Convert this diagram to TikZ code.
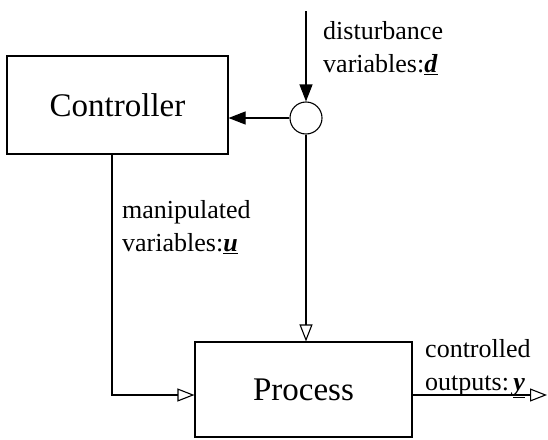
\documentclass[tikz,border=0pt]{standalone}
\usepackage{fontspec}
\setmainfont{Liberation Serif}
\usetikzlibrary{arrows.meta}
\tikzset{
  block/.style={draw, rectangle, line width=1.1pt, font=\fontsize{33}{36}\selectfont},
  sumnode/.style={draw, circle, line width=1.1pt, minimum size=32pt, inner sep=0pt},
  lbl/.style={anchor=north west, inner sep=0pt, align=left,
    font=\fontsize{26}{33}\selectfont},
  sig/.style={line width=1.1pt, -{Triangle[open, length=17pt, width=13pt]}},
  fb/.style={line width=1.1pt, -{Triangle[length=17pt, width=13pt]}}
}
\newcommand{\vecsym}[1]{\underline{\textbf{\textit{#1}}}}
\begin{document}
\begin{tikzpicture}[x=1pt, y=-1pt]
    \useasboundingbox (0,0) rectangle (548,439);

    % blocks
    \node[block, minimum width=221pt, minimum height=98pt] (ctrl) at (117.5,105) {Controller};
    \node[block, minimum width=217pt, minimum height=95pt] (proc) at (303.5,389.5) {Process};
    \node[sumnode] (sum) at (306,118) {};

    % free ends
    \coordinate (dtop) at (306,11);
    \coordinate (ucorner) at (112,395);
    \coordinate (uin) at (proc.west |- ucorner);
    \coordinate (yout) at (proc.east |- ucorner);
    \coordinate (yend) at (547,395);

    % disturbance
    \draw[fb] (dtop) -- (sum.north);
    \draw[fb] (sum.west) -- (ctrl.east |- sum.west);
    \draw[sig] (sum.south) -- (proc.north -| sum.south);

    % manipulated variables
    \draw[sig] (ctrl.south -| ucorner) -- (ucorner) -- (uin);

    % outputs
    \draw[sig] (yout) -- (yend);

    % labels
    \node[lbl] (dlbl) at (323,21) {disturbance\\variables:\vecsym{d}};
    \node[lbl] (ulbl) at (122,200) {manipulated\\variables:\vecsym{u}};
    \node[lbl] (ylbl) at (425,339) {controlled\\outputs:\,\vecsym{y}};
\end{tikzpicture}
\end{document}
